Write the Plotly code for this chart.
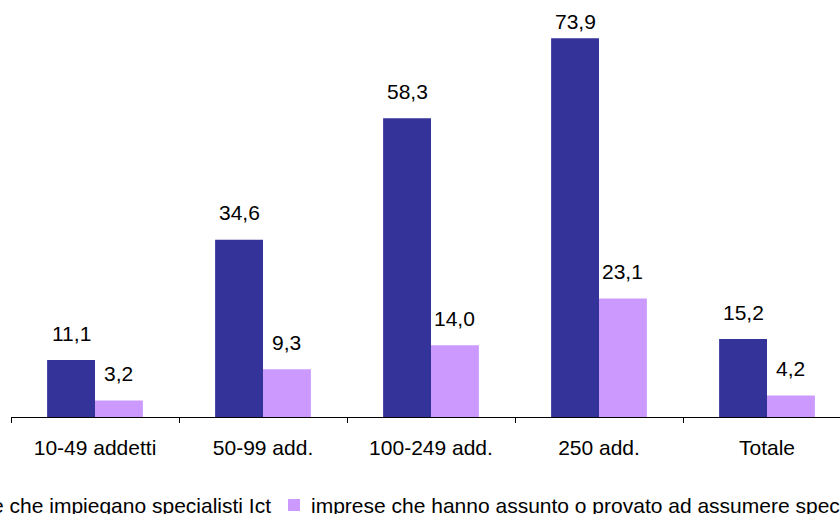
import plotly.graph_objects as go

categories = ["10-49 addetti", "50-99 add.", "100-249 add.", "250 add.", "Totale"]
series_names = ["imprese che impiegano specialisti Ict",
                "imprese che hanno assunto o provato ad assumere specialisti Ict"]
impiegano = [11.1, 34.6, 58.3, 73.9, 15.2]
assunto = [3.2, 9.3, 14.0, 23.1, 4.2]
colors = ["#333399", "#CC99FF"]

W, H = 840, 514
ML, MR, MT, MB = 11, 0, 7, 97
YMAX = 80
plot_w = W - ML - MR
plot_h = H - MT - MB
cat_px = 168
xmax = -0.5 + plot_w / cat_px
bargap = 0.43
bar_px = cat_px * (1 - bargap) / 2
FONT = "Liberation Sans, Arial, sans-serif"
FS = 21

fig = go.Figure()
for name, vals, col in zip(series_names, [impiegano, assunto], colors):
    fig.add_trace(go.Bar(x=categories, y=vals, name=name, marker_color=col,
                         marker_line_width=0, showlegend=False))

def fmt(v):
    return f"{v:.1f}".replace(".", ",")

px_per_unit = plot_h / YMAX
annotations = []
for s, vals in enumerate([impiegano, assunto]):
    for i, v in enumerate(vals):
        top_px = MT + plot_h - v * px_per_unit
        shift = 27
        if top_px - shift < MT + 15:
            shift = top_px - (MT + 15)
        annotations.append(dict(x=categories[i], y=v, xref="x", yref="y",
                                text=fmt(v), showarrow=False,
                                xshift=(s - 0.5) * bar_px, yshift=shift,
                                yanchor="middle",
                                font=dict(family=FONT, size=FS, color="black")))

# legend drawn as annotations + squares (legend overflows the page on both sides)
def px2paper_x(px):
    return (px - ML) / plot_w

def px2paper_y(py):
    return (MT + plot_h - py) / plot_h

leg_y = 505
shapes = []
annotations.append(dict(x=px2paper_x(273), y=px2paper_y(leg_y), xref="paper", yref="paper",
                        text=series_names[0], showarrow=False, xanchor="right", yanchor="middle",
                        font=dict(family=FONT, size=FS, color="black")))
shapes.append(dict(type="rect", xref="paper", yref="paper",
                   x0=px2paper_x(-100), x1=px2paper_x(-88),
                   y0=px2paper_y(499), y1=px2paper_y(511),
                   fillcolor=colors[0], line_width=0))
shapes.append(dict(type="rect", xref="paper", yref="paper",
                   x0=px2paper_x(288), x1=px2paper_x(300),
                   y0=px2paper_y(499), y1=px2paper_y(511),
                   fillcolor=colors[1], line_width=0))
annotations.append(dict(x=px2paper_x(309), y=px2paper_y(leg_y), xref="paper", yref="paper",
                        text=series_names[1], showarrow=False, xanchor="left", yanchor="middle",
                        font=dict(family=FONT, size=FS, color="black")))

fig.update_layout(
    width=W, height=H,
    margin=dict(l=ML, r=MR, t=MT, b=MB),
    paper_bgcolor="white", plot_bgcolor="white",
    barmode="group", bargap=bargap, bargroupgap=0,
    font=dict(family=FONT, size=FS, color="black"),
    annotations=annotations, shapes=shapes,
    hovermode=False,
    xaxis=dict(range=[-0.5, xmax], showline=True, linecolor="black", linewidth=1,
               ticks="outside", tickson="boundaries", ticklen=5, tickcolor="black",
               showgrid=False, tickfont=dict(family=FONT, size=FS, color="black"),
               ticklabelstandoff=12, fixedrange=True),
    yaxis=dict(range=[0, YMAX], visible=False, showgrid=False, zeroline=False,
               fixedrange=True),
)
fig.write_html("out.html", config={"displayModeBar": False, "staticPlot": True},
               post_script="document.body.style.margin='0';document.body.style.overflow='hidden';")
